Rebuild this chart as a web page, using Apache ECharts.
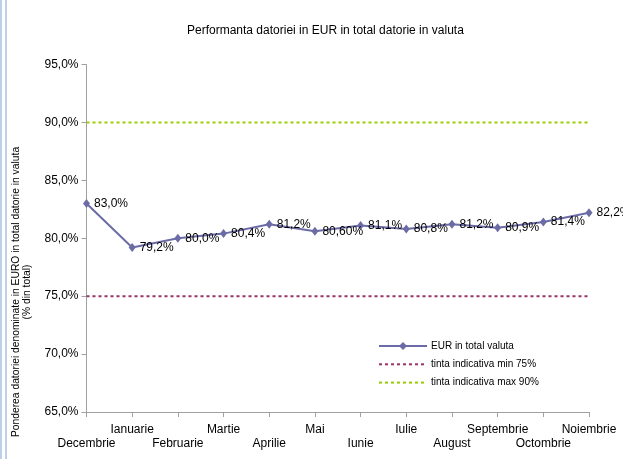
<!DOCTYPE html>
<html>
<head>
<meta charset="utf-8">
<script src="https://cdn.jsdelivr.net/npm/echarts@6/dist/echarts.min.js"></script>
<style>html,body{margin:0;padding:0;background:#fff;}#c{width:623px;height:459px;}</style>
</head>
<body>
<div id="c"></div>
<script>
const categories = ['Decembrie','Ianuarie','Februarie','Martie','Aprilie','Mai','Iunie','Iulie','August','Septembrie','Octombrie','Noiembrie'];
const eurShare = [83.0, 79.2, 80.0, 80.4, 81.2, 80.6, 81.1, 80.8, 81.2, 80.9, 81.4, 82.2];
const eurLabels = ['83,0%','79,2%','80,0%','80,4%','81,2%','80,60%','81,1%','80,8%','81,2%','80,9%','81,4%','82,2%'];
const minTarget = [75, 75, 75, 75, 75, 75, 75, 75, 75, 75, 75, 75];
const maxTarget = [90, 90, 90, 90, 90, 90, 90, 90, 90, 90, 90, 90];
const seriesNames = ['EUR in total valuta','tinta indicativa min 75%','tinta indicativa max 90%'];
const titleText = 'Performanta datoriei in EUR in total datorie in valuta';
const yTitle = 'Ponderea datoriei denominate in EURO in total datorie in valuta\n(% din total)';

const FONT = '"Liberation Sans", Arial, sans-serif';
const chart = echarts.init(document.getElementById('c'), null, {renderer:'canvas'});
chart.setOption({
  animation: false,
  backgroundColor: '#fff',
  textStyle: {fontFamily: FONT},
  title: {text: titleText, left: 187, top: 25, padding: 0,
    textStyle: {fontFamily: FONT, fontSize: 12, fontWeight: 'normal', color: '#000'}},
  grid: {left: 86.5, right: 34, top: 64.5, bottom: 47, containLabel: false},
  legend: {
    orient: 'vertical', left: 378, top: 341, padding: 0,
    itemWidth: 48, itemHeight: 10, itemGap: 8.3,
    textStyle: {fontFamily: FONT, fontSize: 10, color: '#000', padding: [0,0,0,-1]},
    data: [
      {name: seriesNames[0]},
      {name: seriesNames[1], itemStyle: {opacity: 0}},
      {name: seriesNames[2], itemStyle: {opacity: 0}}
    ]
  },
  xAxis: {
    type: 'category', data: categories, boundaryGap: false,
    axisLine: {lineStyle: {color: '#a0a0a0', width: 1}},
    axisTick: {show: true, length: 5, lineStyle: {color: '#a0a0a0'}},
    axisLabel: {interval: 0, margin: 11, fontFamily: FONT, fontSize: 12, color: '#000', lineHeight: 14,
      formatter: function(v, i){ return i % 2 === 0 ? '\n' + v : v; }},
    splitLine: {show: false}
  },
  yAxis: {
    type: 'value', min: 65, max: 95, interval: 5,
    axisLine: {show: true, lineStyle: {color: '#a0a0a0', width: 1}},
    axisTick: {show: true, length: 5, lineStyle: {color: '#a0a0a0'}},
    axisLabel: {margin: 8, fontFamily: FONT, fontSize: 12, color: '#000',
      formatter: function(v){ return v.toFixed(1).replace('.', ',') + '%'; }},
    splitLine: {show: false}
  },
  series: [
    {
      name: seriesNames[0], type: 'line', data: eurShare,
      symbol: 'diamond', symbolSize: [7, 9], z: 5,
      lineStyle: {color: '#6b6ba6', width: 2},
      itemStyle: {color: '#6b6ba6'},
      label: {show: true, position: 'right', distance: 4, fontFamily: FONT, fontSize: 12, color: '#000',
        formatter: function(p){ return eurLabels[p.dataIndex]; }}
    },
    {
      name: seriesNames[1], type: 'line', data: minTarget, symbol: 'none', showSymbol: false,
      lineStyle: {color: '#993366', width: 2, type: [3, 3]}, itemStyle: {color: '#993366'}
    },
    {
      name: seriesNames[2], type: 'line', data: maxTarget, symbol: 'none', showSymbol: false,
      lineStyle: {color: '#99cc00', width: 2, type: [3, 3]}, itemStyle: {color: '#99cc00'}
    }
  ],
  graphic: [
    {type: 'text', x: 22, y: 292, rotation: Math.PI / 2,
      style: {text: yTitle, fontFamily: FONT, fontSize: 10.3, lineHeight: 11, fill: '#000',
        align: 'center', verticalAlign: 'middle'}},
    {type: 'line', shape: {x1: 1, y1: 0, x2: 1, y2: 459}, style: {stroke: '#a9c1e2', lineWidth: 1.5}},
    {type: 'line', shape: {x1: 6, y1: 0, x2: 6, y2: 459}, style: {stroke: '#a9c1e2', lineWidth: 1.5}}
  ]
});
</script>
</body>
</html>
